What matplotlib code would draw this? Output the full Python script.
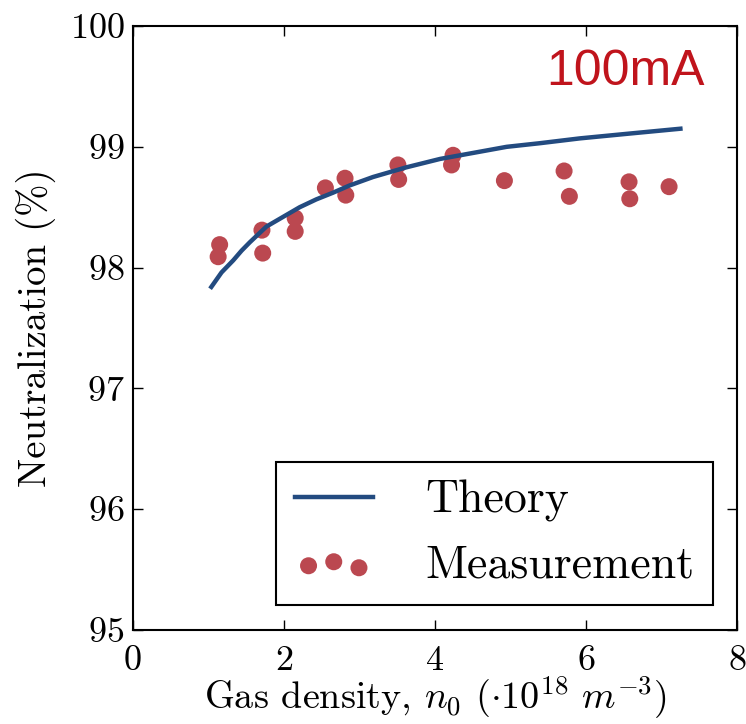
import matplotlib
matplotlib.use("Agg")
import matplotlib.pyplot as plt

plt.rcParams["font.family"] = "serif"
plt.rcParams["font.serif"] = ["cmr10"]
plt.rcParams["mathtext.fontset"] = "cm"
plt.rcParams["axes.unicode_minus"] = False
plt.rcParams["axes.formatter.use_mathtext"] = True

# theory curve
theory_x = [1.04, 1.175, 1.33, 1.44, 1.55, 1.77, 1.99, 2.21, 2.43, 2.65, 2.87,
            3.18, 3.62, 4.07, 4.51, 4.95, 5.39, 5.92, 6.58, 7.25]
theory_y = [97.84, 97.96, 98.06, 98.14, 98.21, 98.34, 98.42, 98.50, 98.565,
            98.62, 98.68, 98.75, 98.83, 98.90, 98.95, 99.00, 99.03, 99.07,
            99.11, 99.15]

# measured points
meas_x = [1.13, 1.15, 1.71, 1.72, 2.15, 2.15, 2.55, 2.81, 2.82, 3.51, 3.52,
          4.24, 4.22, 4.92, 5.71, 5.78, 6.57, 6.58, 7.10]
meas_y = [98.09, 98.19, 98.31, 98.12, 98.41, 98.30, 98.66, 98.74, 98.60,
          98.85, 98.73, 98.93, 98.85, 98.72, 98.80, 98.59, 98.71, 98.57, 98.67]

fig = plt.figure(figsize=(7.46, 7.24), dpi=100)
ax = fig.add_axes([0.178, 0.130, 0.810, 0.834])

ax.plot(theory_x, theory_y, color="#234b80", lw=3.2, label="Theory", zorder=3)
ax.scatter(meas_x, meas_y, s=150, color="#bb4850", edgecolors="none",
           label="Measurement", zorder=2)

ax.set_xlim(0, 8)
ax.set_ylim(95, 100)
ax.set_xticks([0, 2, 4, 6, 8])
ax.set_yticks([95, 96, 97, 98, 99, 100])
ax.tick_params(direction="in", top=True, right=True, length=7, width=1,
               labelsize=26, pad=6)
ax.tick_params(axis="x", pad=11)
for s in ax.spines.values():
    s.set_linewidth(1.5)

ax.set_xlabel(r"Gas density, $n_0$ $(\cdot 10^{18}\ m^{-3})$", fontsize=27.5,
              labelpad=-2)
ax.set_ylabel("Neutralization (%)", fontsize=28, labelpad=10)

ax.text(0.947, 0.924, "100mA", transform=ax.transAxes, ha="right",
        va="center", fontsize=36, color="#c0141c", family="Liberation Sans")

leg = ax.legend(loc="lower right", bbox_to_anchor=(0.96, 0.041),
                borderaxespad=0, fontsize=33, scatterpoints=3,
                scatteryoffsets=[0.375, 0.5, 0.3125], handlelength=1.7,
                handletextpad=1.15, fancybox=False, framealpha=1)
leg.get_frame().set_edgecolor("black")
leg.get_frame().set_linewidth(1.5)

fig.savefig("out.png", dpi=100)
